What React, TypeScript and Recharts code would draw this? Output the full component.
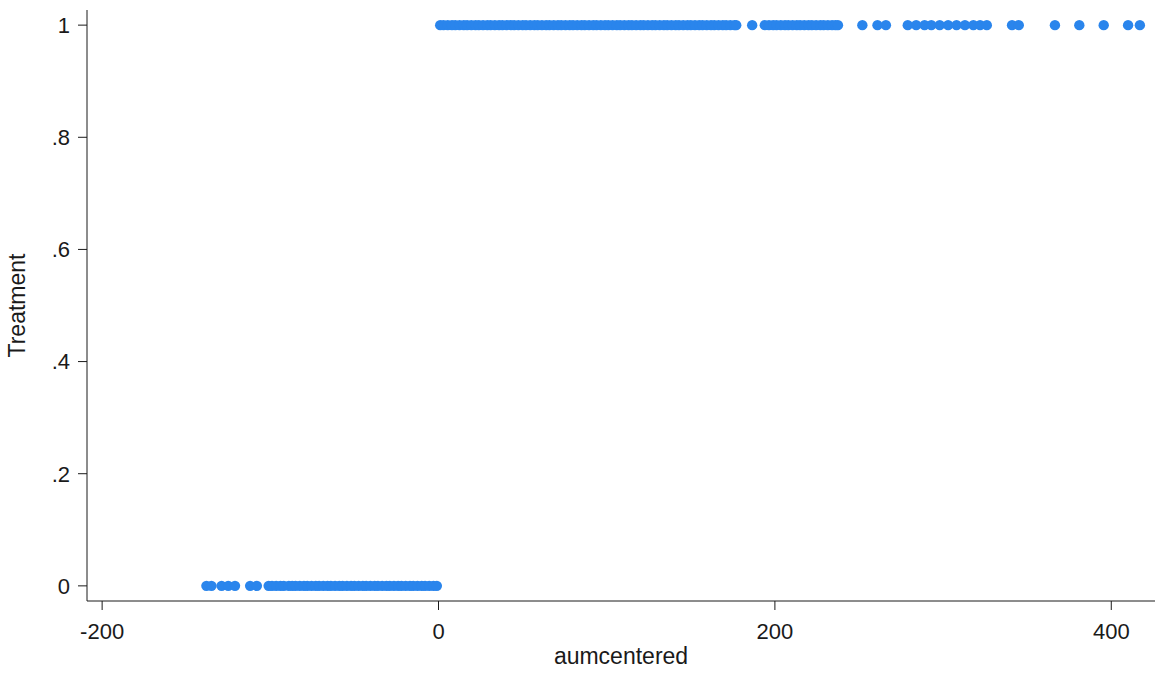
import React from 'react';
import { ScatterChart, Scatter, XAxis, YAxis } from 'recharts';

// aumcentered values for untreated (Treatment = 0)
const controlAum = [
  -138, -135, -129, -125, -121, -112, -108,
  -101, -99, -96.5, -94, -92, -89, -87, -85, -82.5, -80, -78, -75.5, -73, -71,
  -68.5, -66, -64, -61.5, -59, -57, -54.5, -52, -50, -47.5, -45, -43, -40.5, -38,
  -36, -33.5, -31, -29, -26.5, -24, -22, -19.5, -17, -15, -12.5, -10, -8, -5.5, -3, -1,
];

// aumcentered values for treated (Treatment = 1)
const treatedAum = [
  1, 3, 5.5, 8, 10, 12.5, 15, 17, 19.5, 22, 24, 26.5, 29, 31, 33.5, 36, 38, 40.5, 43, 45,
  47.5, 50, 52, 54.5, 57, 59, 61.5, 64, 66, 68.5, 71, 73, 75.5, 78, 80, 82.5, 85, 87, 89.5,
  92, 94, 96.5, 99, 101, 103.5, 106, 108, 110.5, 113, 115, 117.5, 120, 122, 124.5, 127, 129,
  131.5, 134, 136, 138.5, 141, 143, 145.5, 148, 150, 152.5, 155, 157, 159.5, 162, 164, 166.5,
  169, 171, 173.5, 176, 177,
  186.5,
  194, 196.5, 199, 201, 203.5, 206, 208, 210.5, 213, 215, 217.5, 220, 222, 224.5, 227, 229,
  231.5, 234, 236, 237.5,
  252, 261, 266, 279, 284, 289, 293, 298, 303, 308, 313, 318, 322, 326, 341, 345,
  366.5, 381, 395.5, 410, 417,
];

const xTicks = [-200, 0, 200, 400];
const yTicks = [0, 0.2, 0.4, 0.6, 0.8, 1];

const controlData = controlAum.map((x) => ({ x, y: 0 }));
const treatedData = treatedAum.map((x) => ({ x, y: 1 }));

const DOT = '#2a85ec';
const FONT = '"Liberation Sans", Arial, sans-serif';
const INK = '#1a1a1a';

const fmtY = (v: number) => (v === 0 || v === 1 ? String(v) : String(v).replace(/^0\./, '.'));

const Dot = (p: any) => <circle cx={p.cx} cy={p.cy} r={5.2} fill={DOT} />;

const YTitle = (props: any) => {
  const vb = props.viewBox || {};
  const cx = (vb.x ?? 0) + 17;
  const cy = (vb.y ?? 0) + (vb.height ?? 0) / 2;
  return (
    <text
      x={cx}
      y={cy}
      transform={`rotate(-90 ${cx} ${cy})`}
      textAnchor="middle"
      dominantBaseline="central"
      fontFamily={FONT}
      fontSize={23}
      fill={INK}
    >
      Treatment
    </text>
  );
};

export default function App() {
  return (
    <div style={{ position: 'absolute', left: 0, top: 0, background: '#fff' }}>
      <ScatterChart width={1157} height={675} margin={{ top: 10, right: 2, bottom: 34, left: 0 }}>
        <XAxis
          type="number"
          dataKey="x"
          domain={[-209, 426]}
          ticks={xTicks}
          allowDataOverflow
          height={40}
          tickSize={9}
          tickMargin={13}
          stroke={INK}
          tick={{ fill: INK, fontSize: 22, fontFamily: FONT }}
          label={{ value: 'aumcentered', position: 'bottom', offset: 7, fill: INK, fontSize: 23, fontFamily: FONT }}
        />
        <YAxis
          type="number"
          dataKey="y"
          domain={[-0.027, 1.027]}
          ticks={yTicks}
          allowDataOverflow
          width={87}
          tickSize={9}
          tickMargin={8}
          tickFormatter={fmtY}
          stroke={INK}
          tick={{ fill: INK, fontSize: 22, fontFamily: FONT }}
          label={<YTitle />}
        />
        <Scatter data={controlData} fill={DOT} shape={Dot} isAnimationActive={false} />
        <Scatter data={treatedData} fill={DOT} shape={Dot} isAnimationActive={false} />
      </ScatterChart>
    </div>
  );
}
